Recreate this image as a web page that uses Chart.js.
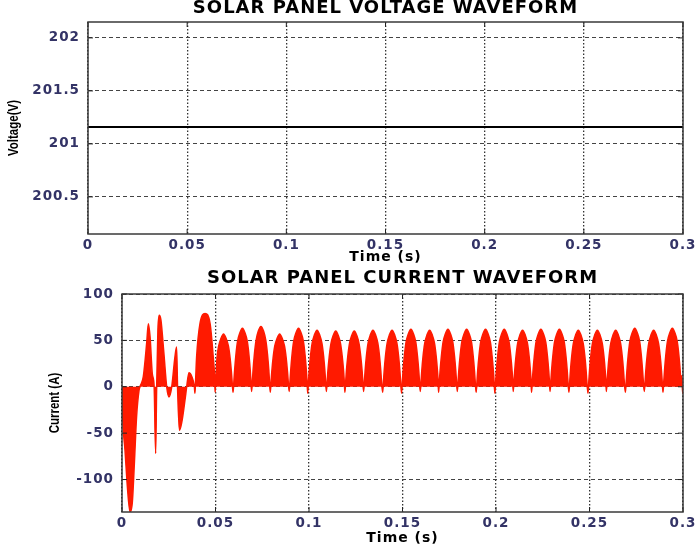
<!DOCTYPE html>
<html>
<head>
<meta charset="utf-8">
<script src="https://cdn.jsdelivr.net/npm/chart.js@4.4.0/dist/chart.umd.min.js"></script>
<style>
html, body { margin: 0; padding: 0; background: #fff; }
#wrap { position: relative; width: 699px; height: 548px; overflow: hidden; }
#voltChart { position: absolute; left: 0; top: 0; }
#currChart { position: absolute; left: 0; top: 262px; }
</style>
</head>
<body>
<div id="wrap">
  <canvas id="voltChart" width="699" height="272"></canvas>
  <canvas id="currChart" width="699" height="286"></canvas>
</div>
<script>
// tiempo (s) y ejes
const xTicks = [0, 0.05, 0.1, 0.15, 0.2, 0.25, 0.3];
const xTickLabels = ['0', '0.05', '0.1', '0.15', '0.2', '0.25', '0.3'];

const voltTicks = [200.5, 201, 201.5, 202];
const voltTickLabels = ['200.5', '201', '201.5', '202'];
const currTicks = [-100, -50, 0, 50, 100];
const currTickLabels = ['-100', '-50', '0', '50', '100'];

// tension del panel: constante
const voltTime = [0, 0.3];
const voltValue = [201.16, 201.16];

// corriente del panel: transitorio + jorobas cada ~10 ms (una fila por joroba)
const currTime = [
  0, 0.0004, 0.0016, 0.0030, 0.0043, 0.0055, 0.0066, 0.0078, 0.0091, 0.0096,
  0.0114, 0.0132, 0.0141, 0.0150, 0.0162, 0.0172, 0.0180, 0.0185, 0.0192, 0.0199,
  0.0208, 0.0224, 0.0239, 0.0251, 0.0266, 0.0283, 0.0292, 0.0297, 0.0307, 0.0319,
  0.0337, 0.0346, 0.0358, 0.0373, 0.0387, 0.0390, 0.0393, 0.0399, 0.0417, 0.0444,
  0.0471, 0.0488, 0.0495,
  0.0498, 0.0501, 0.0504, 0.0508, 0.0517, 0.0529, 0.0543, 0.0557, 0.0569, 0.0578, 0.0585, 0.0588,
  0.0594, 0.0599, 0.0602, 0.0609, 0.0618, 0.0630, 0.0644, 0.0658, 0.0670, 0.0679, 0.0686, 0.0689,
  0.0693, 0.0698, 0.0701, 0.0708, 0.0717, 0.0729, 0.0743, 0.0757, 0.0769, 0.0778, 0.0785, 0.0788,
  0.0793, 0.0798, 0.0801, 0.0808, 0.0817, 0.0829, 0.0843, 0.0857, 0.0869, 0.0878, 0.0885, 0.0888,
  0.0894, 0.0899, 0.0902, 0.0909, 0.0918, 0.0930, 0.0944, 0.0958, 0.0970, 0.0979, 0.0986, 0.0989,
  0.0993, 0.0998, 0.1001, 0.1008, 0.1017, 0.1029, 0.1043, 0.1057, 0.1069, 0.1078, 0.1085, 0.1088,
  0.1093, 0.1098, 0.1101, 0.1108, 0.1117, 0.1129, 0.1143, 0.1157, 0.1169, 0.1178, 0.1185, 0.1188,
  0.1192, 0.1197, 0.1200, 0.1207, 0.1216, 0.1228, 0.1242, 0.1256, 0.1268, 0.1277, 0.1284, 0.1287,
  0.1292, 0.1297, 0.1300, 0.1307, 0.1316, 0.1328, 0.1342, 0.1356, 0.1368, 0.1377, 0.1384, 0.1387,
  0.1394, 0.1399, 0.1402, 0.1409, 0.1418, 0.1430, 0.1444, 0.1458, 0.1470, 0.1479, 0.1486, 0.1489,
  0.1495, 0.1500, 0.1503, 0.1510, 0.1519, 0.1531, 0.1545, 0.1559, 0.1571, 0.1580, 0.1587, 0.1590,
  0.1595, 0.1600, 0.1603, 0.1610, 0.1619, 0.1631, 0.1645, 0.1659, 0.1671, 0.1680, 0.1687, 0.1690,
  0.1693, 0.1698, 0.1701, 0.1708, 0.1717, 0.1729, 0.1743, 0.1757, 0.1769, 0.1778, 0.1785, 0.1788,
  0.1793, 0.1798, 0.1801, 0.1808, 0.1817, 0.1829, 0.1843, 0.1857, 0.1869, 0.1878, 0.1885, 0.1888,
  0.1894, 0.1899, 0.1902, 0.1909, 0.1918, 0.1930, 0.1944, 0.1958, 0.1970, 0.1979, 0.1986, 0.1989,
  0.1994, 0.1999, 0.2002, 0.2009, 0.2018, 0.2030, 0.2044, 0.2058, 0.2070, 0.2079, 0.2086, 0.2089,
  0.2092, 0.2097, 0.2100, 0.2107, 0.2116, 0.2128, 0.2142, 0.2156, 0.2168, 0.2177, 0.2184, 0.2187,
  0.2190, 0.2195, 0.2198, 0.2205, 0.2214, 0.2226, 0.2240, 0.2254, 0.2266, 0.2275, 0.2282, 0.2285,
  0.2289, 0.2294, 0.2297, 0.2304, 0.2313, 0.2325, 0.2339, 0.2353, 0.2365, 0.2374, 0.2381, 0.2384,
  0.2390, 0.2395, 0.2398, 0.2405, 0.2414, 0.2426, 0.2440, 0.2454, 0.2466, 0.2475, 0.2482, 0.2485,
  0.2492, 0.2497, 0.2500, 0.2507, 0.2516, 0.2528, 0.2542, 0.2556, 0.2568, 0.2577, 0.2584, 0.2587,
  0.2590, 0.2595, 0.2598, 0.2605, 0.2614, 0.2626, 0.2640, 0.2654, 0.2666, 0.2675, 0.2682, 0.2685,
  0.2692, 0.2697, 0.2700, 0.2707, 0.2716, 0.2728, 0.2742, 0.2756, 0.2768, 0.2777, 0.2784, 0.2787,
  0.2793, 0.2798, 0.2801, 0.2808, 0.2817, 0.2829, 0.2843, 0.2857, 0.2869, 0.2878, 0.2885, 0.2888,
  0.2893, 0.2898, 0.2901, 0.2908, 0.2917, 0.2929, 0.2943, 0.2957, 0.2969, 0.2978, 0.2985, 0.2988,
  0.2994, 0.2998, 0.3000
];
const currAmps = [
  0, -34, -68, -111, -135, -125, -83, -32, -4, 0,
  11, 47, 68, 54, 14, 0, -72, -4, 61, 77,
  72, 36, 0, -11, 0, 32, 43, 0, -47, -39,
  -14, 0, 15, 11, 0, -7, 4, 32, 68, 79,
  68, 32, 12,
  -6, 8, 16, 31, 44, 52, 57, 52, 44, 31, 16, 8,
  -6, 8, 17, 34, 49, 58, 63, 58, 49, 34, 17, 8,
  -5, 8, 18, 35, 50, 60, 65, 60, 50, 35, 18, 8,
  -6, 8, 16, 31, 44, 52, 57, 52, 44, 31, 16, 8,
  -5, 8, 17, 34, 49, 58, 63, 58, 49, 34, 17, 8,
  -7, 8, 17, 33, 47, 56, 61, 56, 47, 33, 17, 8,
  -5, 8, 17, 32, 46, 55, 60, 55, 46, 32, 17, 8,
  -6, 8, 17, 32, 46, 55, 60, 55, 46, 32, 17, 8,
  -5, 8, 17, 33, 47, 56, 61, 56, 47, 33, 17, 8,
  -6, 8, 17, 33, 47, 56, 61, 56, 47, 33, 17, 8,
  -7, 8, 17, 33, 48, 57, 62, 57, 48, 33, 17, 8,
  -5, 8, 17, 33, 47, 56, 61, 56, 47, 33, 17, 8,
  -6, 8, 17, 33, 48, 57, 62, 57, 48, 33, 17, 8,
  -5, 8, 17, 33, 48, 57, 62, 57, 48, 33, 17, 8,
  -6, 8, 17, 33, 48, 57, 62, 57, 48, 33, 17, 8,
  -7, 8, 17, 33, 48, 57, 62, 57, 48, 33, 17, 8,
  -5, 8, 17, 33, 47, 56, 61, 56, 47, 33, 17, 8,
  -6, 8, 17, 33, 48, 57, 62, 57, 48, 33, 17, 8,
  -5, 8, 17, 33, 48, 57, 62, 57, 48, 33, 17, 8,
  -6, 8, 17, 33, 47, 56, 61, 56, 47, 33, 17, 8,
  -7, 8, 17, 33, 47, 56, 61, 56, 47, 33, 17, 8,
  -5, 8, 17, 33, 47, 56, 61, 56, 47, 33, 17, 8,
  -6, 8, 17, 34, 49, 58, 63, 58, 49, 34, 17, 8,
  -5, 8, 17, 33, 47, 56, 61, 56, 47, 33, 17, 8,
  -6, 8, 17, 34, 49, 58, 63, 58, 49, 34, 17, 8,
  12, -7, -5
];

const tickColor = '#333366';
const tickFont = { family: '"DejaVu Sans", sans-serif', size: 13.5, weight: 'bold' };
const titleFont = { family: '"DejaVu Sans", sans-serif', size: 18, weight: 'bold' };
const axisTitleFont = { family: '"DejaVu Sans", sans-serif', size: 14, weight: 'bold' };

// marco y ticks hacia dentro, estilo matlab
const frameTicks = {
    id: 'frameTicks',
    afterDatasetsDraw(chart) {
        const { ctx, chartArea: a, scales } = chart;
        ctx.save();
        ctx.setLineDash([]);
        ctx.strokeStyle = '#222';
        ctx.lineWidth = 1;
        ctx.beginPath();
        scales.x.ticks.forEach(t => {
            const px = scales.x.getPixelForValue(t.value);
            ctx.moveTo(px, a.bottom); ctx.lineTo(px, a.bottom - 5);
            ctx.moveTo(px, a.top); ctx.lineTo(px, a.top + 5);
        });
        scales.y.ticks.forEach(t => {
            const py = scales.y.getPixelForValue(t.value);
            ctx.moveTo(a.left, py); ctx.lineTo(a.left + 5, py);
            ctx.moveTo(a.right, py); ctx.lineTo(a.right - 5, py);
        });
        ctx.stroke();
        ctx.strokeStyle = '#3a3a3a';
        ctx.lineWidth = 1.5;
        ctx.strokeRect(a.left, a.top, a.width, a.height);
        ctx.restore();
    }
};

// titulo del eje y en letra estrecha (no hay Arial Narrow instalada)
const yTitle = {
    id: 'yTitle',
    afterDraw(chart, args, opts) {
        const { ctx, chartArea: a } = chart;
        ctx.save();
        ctx.letterSpacing = '0px';
        ctx.translate(opts.x, (a.top + a.bottom) / 2);
        ctx.rotate(-Math.PI / 2);
        ctx.scale(0.82, 1);
        ctx.font = 'bold 14px "Liberation Sans", sans-serif';
        ctx.fillStyle = '#000';
        ctx.textAlign = 'center';
        ctx.textBaseline = 'middle';
        ctx.fillText(opts.text, 0, 0);
        ctx.restore();
    }
};

// letras un poco mas separadas (la figura original esta estirada)
const spacing = {
    id: 'spacing',
    beforeDraw(chart) { chart.ctx.letterSpacing = '1px'; },
    afterDraw(chart) { chart.ctx.letterSpacing = '0px'; }
};

function makeOptions(cfg) {
    return {
        responsive: false,
        animation: false,
        layout: { padding: { left: 0, right: 16, top: 0, bottom: 0 } },
        plugins: {
            legend: { display: false },
            tooltip: { enabled: false },
            title: {
                display: true,
                text: cfg.title,
                fullSize: false,
                color: '#000',
                font: titleFont,
                padding: cfg.titlePad
            },
            yTitle: { text: cfg.yTitle, x: cfg.yTitleX }
        },
        scales: {
            x: {
                type: 'linear',
                min: 0,
                max: 0.3,
                afterBuildTicks: s => { s.ticks = xTicks.map(v => ({ value: v })); },
                afterFit: s => { s.height = cfg.xHeight; },
                ticks: {
                    autoSkip: false, maxRotation: 0, padding: 3,
                    color: tickColor, font: tickFont,
                    callback: (v, i) => xTickLabels[i]
                },
                grid: { color: '#333', lineWidth: 1.3, drawTicks: false },
                border: { display: false, dash: [1.5, 2] },
                title: { display: true, text: 'Time (s)', color: '#000', font: axisTitleFont, padding: { top: 0, bottom: cfg.xTitlePad } }
            },
            y: {
                type: 'linear',
                min: cfg.yMin,
                max: cfg.yMax,
                afterBuildTicks: s => { s.ticks = cfg.yTicks.map(v => ({ value: v })); },
                afterFit: s => { s.width = cfg.yWidth; },
                ticks: {
                    padding: 8, color: tickColor, font: tickFont,
                    callback: (v, i) => cfg.yTickLabels[i]
                },
                grid: { color: '#444', lineWidth: 1, drawTicks: false },
                border: { display: false, dash: [4, 3] }
            }
        }
    };
}

const voltageChart = new Chart(document.getElementById('voltChart'), {
    type: 'line',
    data: {
        datasets: [{
            data: voltTime.map((t, i) => ({ x: t, y: voltValue[i] })),
            borderColor: '#000',
            borderWidth: 2,
            pointRadius: 0,
            fill: false
        }]
    },
    options: makeOptions({
        title: 'SOLAR PANEL VOLTAGE WAVEFORM',
        titlePad: { top: -2.5, bottom: 2.9 },
        xHeight: 38, xTitlePad: 6.6,
        yMin: 200.15, yMax: 202.15, yTicks: voltTicks, yTickLabels: voltTickLabels,
        yWidth: 88, yTitle: 'Voltage(V)', yTitleX: 14
    }),
    plugins: [frameTicks, yTitle, spacing]
});

const currentChart = new Chart(document.getElementById('currChart'), {
    type: 'line',
    data: {
        datasets: [{
            data: currTime.map((t, i) => ({ x: t, y: currAmps[i] })),
            borderColor: '#ff1a00',
            backgroundColor: '#ff1a00',
            borderWidth: 1.5,
            pointRadius: 0,
            cubicInterpolationMode: 'monotone',
            fill: 'origin'
        }]
    },
    options: makeOptions({
        title: 'SOLAR PANEL CURRENT WAVEFORM',
        titlePad: { top: 5.2, bottom: 5.2 },
        xHeight: 36, xTitlePad: 1.6,
        yMin: -135, yMax: 100, yTicks: currTicks, yTickLabels: currTickLabels,
        yWidth: 122, yTitle: 'Current (A)', yTitleX: 55
    }),
    plugins: [frameTicks, yTitle, spacing]
});
</script>
</body>
</html>
